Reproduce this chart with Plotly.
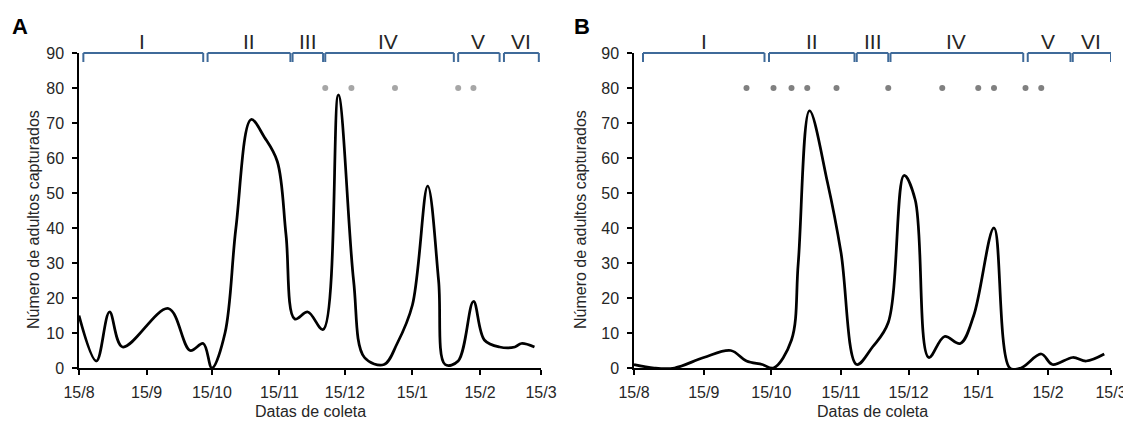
import datetime as dt
import plotly.graph_objects as go

# Painel A
datas_a = ['2016-08-15', '2016-08-23', '2016-08-29', '2016-09-04', '2016-09-25', '2016-10-05',
           '2016-10-11', '2016-10-15', '2016-10-21', '2016-10-26', '2016-11-02', '2016-11-08',
           '2016-11-14', '2016-11-18', '2016-11-22', '2016-11-28', '2016-12-05', '2016-12-12',
           '2016-12-19', '2016-12-24', '2017-01-02', '2017-01-08', '2017-01-15', '2017-01-22',
           '2017-01-27', '2017-01-30', '2017-02-05', '2017-02-12', '2017-02-17', '2017-02-24',
           '2017-03-03', '2017-03-06', '2017-03-12']
adultos_a = [15, 2, 16, 6, 17, 5,
             7, 0, 10, 40, 71, 66,
             59, 38, 14, 16, 11, 78,
             25, 3, 1, 7, 18, 52,
             25, 1, 2, 19, 8, 6,
             6, 7, 6]
pontos_a = ['2016-12-06', '2016-12-18', '2017-01-07', '2017-02-05', '2017-02-12']

# Painel B
datas_b = ['2016-08-15', '2016-08-24', '2016-09-02', '2016-09-15', '2016-09-27', '2016-10-04',
           '2016-10-11', '2016-10-16', '2016-10-24', '2016-10-27', '2016-11-01', '2016-11-09',
           '2016-11-15', '2016-11-22', '2016-11-29', '2016-12-06', '2016-12-13', '2016-12-18',
           '2016-12-24', '2016-12-31', '2017-01-07', '2017-01-13', '2017-01-22', '2017-01-29',
           '2017-02-03', '2017-02-12', '2017-02-17', '2017-02-26', '2017-03-04', '2017-03-12']
adultos_b = [1, 0, 0, 3, 5, 2,
             1, 0, 8, 30, 73.5, 53,
             33, 1, 6, 13, 55, 48,
             3, 9, 7, 15, 40, 0,
             0, 4, 1, 3, 2, 4]
pontos_b = ['2016-10-04', '2016-10-16', '2016-10-24', '2016-10-31', '2016-11-13', '2016-12-06',
            '2016-12-30', '2017-01-15', '2017-01-22', '2017-02-05', '2017-02-12']

# Fases
fases = ['I', 'II', 'III', 'IV', 'V', 'VI']
inicio_a = ['2016-08-17', '2016-10-13', '2016-11-21', '2016-12-06', '2017-02-05', '2017-02-26']
fim_a = ['2016-10-11', '2016-11-20', '2016-12-05', '2017-02-03', '2017-02-24', '2017-03-14']
inicio_b = ['2016-08-19', '2016-10-14', '2016-11-22', '2016-12-07', '2017-02-06', '2017-02-26']
fim_b = ['2016-10-12', '2016-11-21', '2016-12-06', '2017-02-04', '2017-02-25', '2017-03-15']

tick_vals = ['2016-08-15', '2016-09-15', '2016-10-15', '2016-11-15', '2016-12-15',
             '2017-01-15', '2017-02-15', '2017-03-15']
tick_text = ['15/8', '15/9', '15/10', '15/11', '15/12', '15/1', '15/2', '15/3']

W, H = 1131, 424
OFF = 8           # margem do body na pagina
TOP = 53 - OFF    # pixel da linha y=90
BOT = 368 - OFF   # pixel da linha y=0
PLOT_H = BOT - TOP
FONT = 'Arial, Liberation Sans, sans-serif'
TXT = '#262626'
AZUL = '#3f6a99'


def px(x):
    return (x - OFF) / W


def py(y):
    return (BOT - (y - OFF)) / PLOT_H


fig = go.Figure()

paineis = [
    dict(x='x', y='y', datas=datas_a, vals=adultos_a, pontos=pontos_a, cor_pt='#a6a6a6',
         ini=inicio_a, fim=fim_a, letra='A', px_letra=20, px_tit=33, dom=(79, 541)),
    dict(x='x2', y='y2', datas=datas_b, vals=adultos_b, pontos=pontos_b, cor_pt='#808080',
         ini=inicio_b, fim=fim_b, letra='B', px_letra=582, px_tit=580, dom=(634, 1111)),
]

shapes = []
annotations = []
for p in paineis:
    fig.add_trace(go.Scatter(x=p['datas'], y=p['vals'], mode='lines',
                             line=dict(color='black', width=2.75, shape='spline', smoothing=1),
                             xaxis=p['x'], yaxis=p['y'], showlegend=False, hoverinfo='skip'))
    fig.add_trace(go.Scatter(x=p['pontos'], y=[80] * len(p['pontos']), mode='markers',
                             marker=dict(color=p['cor_pt'], size=6),
                             xaxis=p['x'], yaxis=p['y'], showlegend=False, hoverinfo='skip'))

    # colchetes das fases
    y_top = 1.0
    y_leg = 1.0 - 9 / PLOT_H
    ln = dict(color=AZUL, width=2)
    for lab, a, b in zip(fases, p['ini'], p['fim']):
        shapes.append(dict(type='line', xref=p['x'], yref='paper', x0=a, x1=b, y0=y_top, y1=y_top, line=ln))
        shapes.append(dict(type='line', xref=p['x'], yref='paper', x0=a, x1=a, y0=y_top, y1=y_leg, line=ln))
        shapes.append(dict(type='line', xref=p['x'], yref='paper', x0=b, x1=b, y0=y_top, y1=y_leg, line=ln))
        da = dt.date.fromisoformat(a)
        db = dt.date.fromisoformat(b)
        meio = da + (db - da) / 2
        annotations.append(dict(text=lab, x=meio.isoformat(), xref=p['x'], yref='paper',
                                y=py(41.5), xanchor='center', yanchor='middle', showarrow=False,
                                font=dict(size=21, color=TXT, family=FONT)))

    annotations.append(dict(text='<b>%s</b>' % p['letra'], x=px(p['px_letra']), y=py(26),
                            xref='paper', yref='paper', xanchor='center', yanchor='middle', showarrow=False,
                            font=dict(size=22, color='black', family=FONT)))
    annotations.append(dict(text='Datas de coleta', x=px((p['dom'][0] + p['dom'][1]) / 2),
                            y=py(411), xref='paper', yref='paper', xanchor='center', yanchor='middle',
                            showarrow=False, font=dict(size=16, color=TXT, family=FONT)))
    annotations.append(dict(text='Número de adultos capturados', x=px(p['px_tit']), y=py(220),
                            xref='paper', yref='paper', xanchor='center', yanchor='middle', textangle=-90,
                            showarrow=False, font=dict(size=16, color=TXT, family=FONT)))

eixo_x = dict(type='date', range=['2016-08-15', '2017-03-15'], tickvals=tick_vals, ticktext=tick_text,
              showgrid=False, zeroline=False, showline=True, linecolor='black', linewidth=1.5,
              ticks='outside', ticklen=5, tickwidth=1.5, tickcolor='black', automargin=False,
              ticklabelstandoff=4, tickfont=dict(size=16, color=TXT, family=FONT))
eixo_y = dict(range=[0, 90], tickvals=list(range(0, 91, 10)), showgrid=False, zeroline=False,
              showline=True, linecolor='black', linewidth=1.5, ticks='outside', ticklen=5,
              tickwidth=1.5, tickcolor='black', automargin=False, ticklabelstandoff=5,
              tickfont=dict(size=16, color=TXT, family=FONT), domain=[0, 1])

fig.update_layout(
    width=W, height=H,
    margin=dict(l=0, r=0, t=TOP, b=H - BOT),
    paper_bgcolor='white', plot_bgcolor='white',
    xaxis=dict(eixo_x, domain=[px(79), px(541)], anchor='y'),
    yaxis=dict(eixo_y, anchor='x'),
    xaxis2=dict(eixo_x, domain=[px(634), px(1111)], anchor='y2'),
    yaxis2=dict(eixo_y, anchor='x2'),
    shapes=shapes,
    annotations=annotations,
    showlegend=False,
)

fig.write_html('out.html')
